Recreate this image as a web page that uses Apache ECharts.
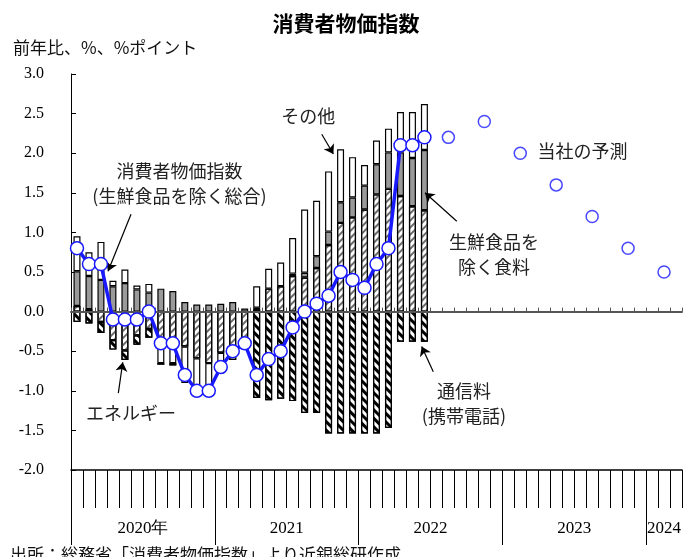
<!DOCTYPE html>
<html><head><meta charset="utf-8">
<script src="https://cdn.jsdelivr.net/npm/echarts@6/dist/echarts.min.js"></script>
<style>html,body{margin:0;padding:0;background:#fff}#c{width:692px;height:557px}</style>
</head><body><div id="c"></div>
<script>
// ---- data ----
const years = [2020, 2021, 2022, 2023, 2024];
const monthsPerYear = [12, 12, 12, 12, 3];
const categories = [];
years.forEach((y, i) => { for (let m = 1; m <= monthsPerYear[i]; m++) categories.push(y + '/' + m); });

const yearLabels = ['2020年', '2021', '2022', '2023', '2024'];

// core CPI (excl. fresh food), y/y %, Jan 2020 - Jun 2022
const coreCPI = [0.8,0.6,0.6,-0.1,-0.1,-0.1,0.0,-0.4,-0.4,-0.8,-1.0,-1.0,
                 -0.7,-0.5,-0.4,-0.8,-0.6,-0.5,-0.2,0.0,0.1,0.2,0.5,0.4,
                 0.3,0.6,0.8,2.1,2.1,2.2];
// contributions, %pt
const energy = [0.07,0.03,-0.13,-0.36,-0.49,-0.30,-0.22,-0.38,-0.38,-0.44,-0.59,-0.65,
                -0.52,-0.61,-0.45,0.03,0.29,0.32,0.45,0.43,0.55,0.84,1.12,1.19,
                1.29,1.48,1.55,1.46,1.33,1.28];
const food = [0.44,0.42,0.40,0.32,0.36,0.28,0.24,0.29,0.26,0.12,0.09,0.09,
              0.10,0.12,0.04,0.02,null,null,0.03,0.06,0.15,0.17,0.26,0.25,
              0.30,0.38,0.46,0.55,0.61,0.76];
const other = [0.44,0.30,0.48,0.07,0.17,0.05,0.11,-0.27,-0.27,-0.46,-0.48,-0.42,
               -0.26,null,null,0.27,0.25,0.30,0.45,0.80,0.70,0.76,0.67,0.51,
               0.26,0.30,0.30,0.51,0.58,0.58];
const telecom = [-0.13,-0.15,-0.14,-0.12,-0.12,-0.12,-0.11,-0.02,-0.03,null,null,null,
                 null,null,null,-1.09,-1.12,-1.10,-1.13,-1.28,-1.28,-1.54,-1.54,-1.54,
                 -1.54,-1.54,-1.47,-0.38,-0.38,-0.38];
// own forecast (quarterly, plotted at mid-quarter month)
const forecastMonths = ['2022/8','2022/11','2023/2','2023/5','2023/8','2023/11','2024/2'];
const forecastValues = [2.2, 2.4, 2.0, 1.6, 1.2, 0.8, 0.5];

// ---- annotations (data coordinates on month scale / value scale) ----
const notes = [
  {text: '消費者物価指数\n(生鮮食品を除く総合)', x: 9.05, y: 1.61},
  {text: 'その他', x: 19.8, y: 2.47},
  {text: '当社の予測', x: 42.7, y: 2.03},
  {text: '生鮮食品を\n除く食料', x: 35.3, y: 0.72},
  {text: '通信料\n(携帯電話)', x: 32.8, y: -1.16},
  {text: 'エネルギー', x: 5.0, y: -1.28}
];
const arrows = [
  [5.01, 1.23, 3.09, 0.51],
  [20.93, 2.24, 21.9, 1.99],
  [32.2, 1.14, 29.55, 1.50],
  [30.24, -0.76, 29.27, -0.44],
  [3.95, -1.03, 4.32, -0.64]
];

const serif = '"Liberation Serif","DejaVu Serif",serif';
const jp = '"Noto Sans CJK JP","Noto Sans",sans-serif';
const blue = '#1a1aff';
const yearTickPos = [0, 12, 24, 36, 48];
const yearLabelPos = [6, 18, 30, 42, 49.5];

const barBase = {type: 'bar', stack: 'cpi', barWidth: 7, xAxisIndex: 0, yAxisIndex: 0, z: 2};
const border = {borderColor: '#000', borderWidth: 1.2};

const chart = echarts.init(document.getElementById('c'), null, {renderer: 'canvas'});
chart.setOption({
  animation: false,
  backgroundColor: '#fff',
  title: {text: '消費者物価指数', left: 'center', top: 8,
          textStyle: {fontFamily: jp, fontSize: 21, fontWeight: 'bold', color: '#000'}},
  graphic: [
    {type: 'text', left: 13, top: 39, style: {text: '前年比、%、%ポイント', font: '17px "Noto Sans CJK JP"', fill: '#111'}},
    {type: 'text', left: 10, top: 546, style: {text: '出所：総務省「消費者物価指数」より近銀総研作成', font: '17px "Noto Sans CJK JP"', fill: '#111'}}
  ],
  grid: {left: 71, right: 10, top: 74, bottom: 87},
  xAxis: [
    {type: 'category', data: categories, position: 'bottom',
     axisLine: {onZero: false, lineStyle: {color: '#000', width: 1.5}},
     axisTick: {show: true, interval: 0, length: 38, lineStyle: {color: '#000', width: 1}},
     axisLabel: {show: false}, splitLine: {show: false}},
    {type: 'value', min: 0, max: 51, position: 'bottom',
     axisLine: {show: false, onZero: false},
     axisTick: {show: true, customValues: yearTickPos, length: 75, lineStyle: {color: '#000', width: 1}},
     axisLabel: {show: true, customValues: yearLabelPos, margin: 50,
                 formatter: v => yearLabels[yearLabelPos.indexOf(v)] || '',
                 fontFamily: serif, fontSize: 17, color: '#000'},
     splitLine: {show: false}},
    {type: 'category', data: categories, position: 'bottom', z: 5,
     axisLine: {onZero: true, lineStyle: {color: '#555', width: 2}},
     axisTick: {show: true, inside: true, interval: 0, length: 4, lineStyle: {color: '#555', width: 1}},
     axisLabel: {show: false}, splitLine: {show: false}}
  ],
  yAxis: {type: 'value', min: -2, max: 3, interval: 0.5,
          axisLine: {show: true, onZero: false, lineStyle: {color: '#000', width: 1}},
          axisTick: {show: true, inside: true, length: 5, lineStyle: {color: '#000'}},
          axisLabel: {formatter: v => v.toFixed(1), margin: 27, fontFamily: serif, fontSize: 16, color: '#000'},
          splitLine: {show: false}},
  series: [
    Object.assign({}, barBase, {name: 'エネルギー', data: energy,
      itemStyle: Object.assign({color: '#fff', decal: {symbol: 'rect', color: '#6a6a6a', dashArrayX: [1, 0], dashArrayY: [1.5, 2.5], rotation: -Math.PI / 4}}, border)}),
    Object.assign({}, barBase, {name: '生鮮食品を除く食料', data: food,
      itemStyle: Object.assign({color: '#9a9a9a'}, border)}),
    Object.assign({}, barBase, {name: 'その他', data: other,
      itemStyle: Object.assign({color: '#fff'}, border)}),
    Object.assign({}, barBase, {name: '通信料', data: telecom,
      itemStyle: Object.assign({color: '#fff', decal: {symbol: 'rect', color: '#000', dashArrayX: [1, 0], dashArrayY: [3, 2.5], rotation: Math.PI / 4}}, border)}),
    {type: 'line', name: '消費者物価指数', data: coreCPI, xAxisIndex: 0, yAxisIndex: 0, z: 10,
     symbol: 'circle', symbolSize: 13, showSymbol: true, showAllSymbol: true,
     lineStyle: {color: blue, width: 3.5},
     itemStyle: {color: '#fff', borderColor: blue, borderWidth: 1.5}},
    {type: 'scatter', name: '当社の予測', xAxisIndex: 0, yAxisIndex: 0, z: 10,
     data: forecastMonths.map((m, i) => [m, forecastValues[i]]),
     symbol: 'circle', symbolSize: 12,
     itemStyle: {color: '#fff', borderColor: blue, borderWidth: 1.5}},
    {type: 'scatter', name: 'notes', xAxisIndex: 1, yAxisIndex: 0, data: [], silent: true, z: 12,
     markLine: {silent: true, symbol: ['none', 'arrow'], symbolSize: 9, animation: false,
       lineStyle: {color: '#000', width: 1.2, type: 'solid'}, label: {show: false},
       data: arrows.map(a => [{coord: [a[0], a[1]]}, {coord: [a[2], a[3]]}])},
     markPoint: {silent: true, symbol: 'circle', symbolSize: 1, animation: false,
       itemStyle: {color: 'transparent'},
       label: {show: true, position: 'inside', formatter: '{b}', fontFamily: jp, fontSize: 18,
               lineHeight: 25, color: '#222', align: 'center'},
       data: notes.map(n => ({name: n.text, coord: [n.x, n.y]}))}}
  ]
});
</script></body></html>
